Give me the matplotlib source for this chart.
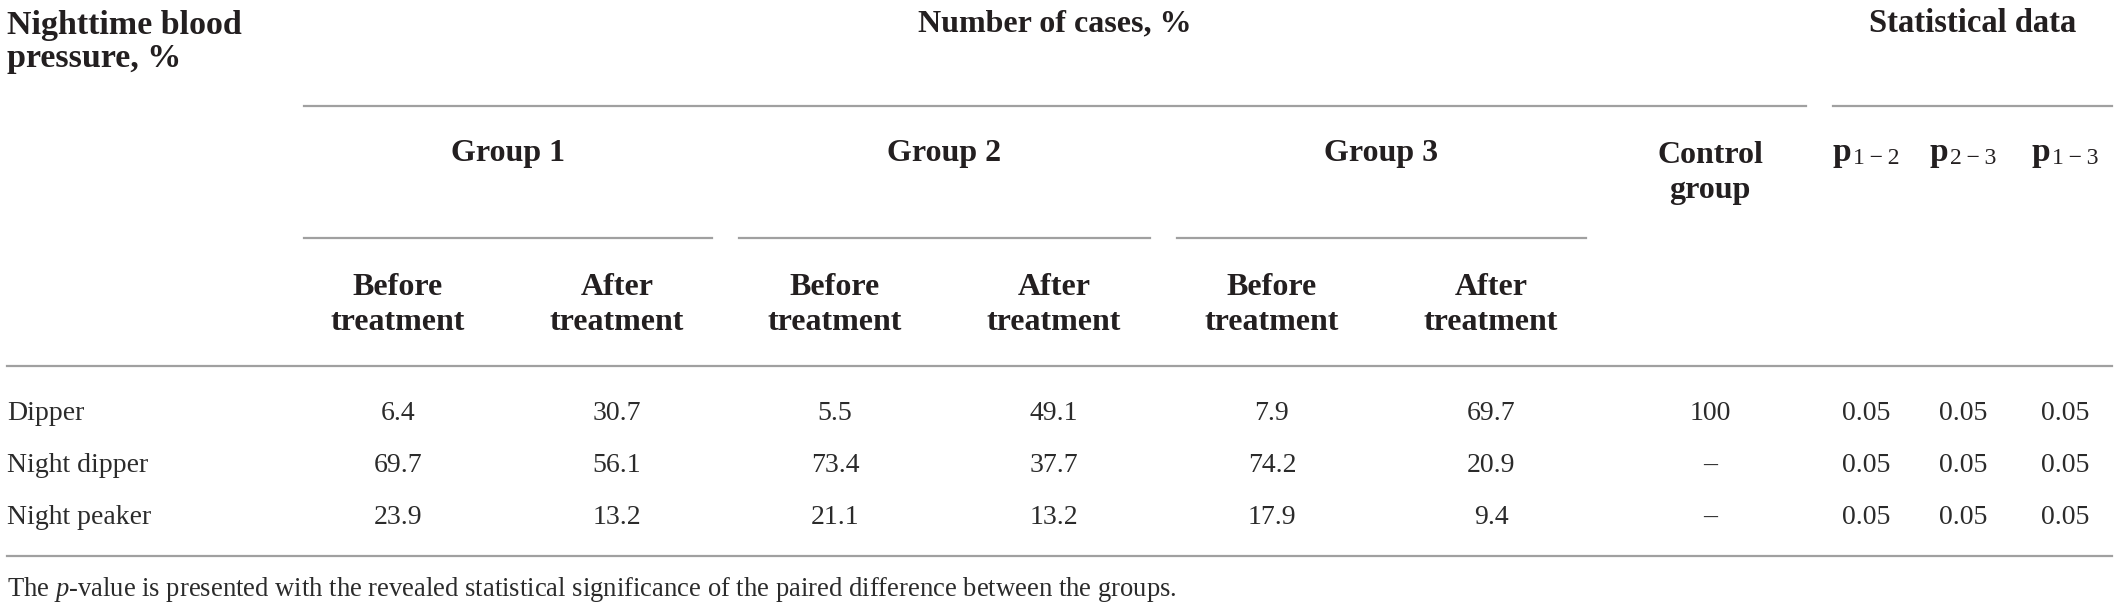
import matplotlib.pyplot as plt

# table contents
row_labels = ["Dipper", "Night dipper", "Night peaker"]
group_names = ["Group 1", "Group 2", "Group 3"]
phase_names = ["Before\ntreatment", "After\ntreatment"]
g1_before = [6.4, 69.7, 23.9]
g1_after = [30.7, 56.1, 13.2]
g2_before = [5.5, 73.4, 21.1]
g2_after = [49.1, 37.7, 13.2]
g3_before = [7.9, 74.2, 17.9]
g3_after = [69.7, 20.9, 9.4]
control = ["100", "\u2013", "\u2013"]
p_1_2 = [0.05, 0.05, 0.05]
p_2_3 = [0.05, 0.05, 0.05]
p_1_3 = [0.05, 0.05, 0.05]
p_subs = ["1\u2009\u2212\u20092", "2\u2009\u2212\u20093", "1\u2009\u2212\u20093"]
footnote = ("The $\\it{p}$-value is presented with the revealed statistical "
            "significance of the paired difference between the groups.")

W, H = 2117, 610
plt.rcParams["font.family"] = ["Liberation Serif", "DejaVu Serif"]
plt.rcParams["mathtext.fontset"] = "custom"
plt.rcParams["mathtext.rm"] = "Liberation Serif"
plt.rcParams["mathtext.it"] = "Liberation Serif:italic"

fig = plt.figure(figsize=(W / 100, H / 100), dpi=100)
ax = fig.add_axes([0, 0, 1, 1])
ax.set_xlim(0, W)
ax.set_ylim(H, 0)
ax.axis("off")

ink = "#231f20"
body_ink = "#2b2b2b"
rule = "#a0a0a0"
hsize = 23
bsize = 20

# column layout (pixel centres)
group_spans = [(304, 712), (739, 1150), (1177, 1586)]
value_cols = [398, 617, 835, 1054, 1272, 1491]
control_x = 1710
p_cols = [1866, 1963, 2065]
row_y = [413, 465, 517]

# header
ax.text(7, 42, "Nighttime blood\npressure, %", ha="left", va="center",
        fontsize=24.5, fontweight="bold", color=ink, linespacing=1.12)
ax.text((304 + 1806) / 2, 24, "Number of cases, %", ha="center", va="center",
        fontsize=hsize, fontweight="bold", color=ink)
ax.text((1833 + 2112) / 2, 24, "Statistical data", ha="center", va="center",
        fontsize=hsize + 0.5, fontweight="bold", color=ink)
ax.plot([304, 1806], [106, 106], color=rule, lw=1.6)
ax.plot([1833, 2112], [106, 106], color=rule, lw=1.6)

for (x0, x1), name in zip(group_spans, group_names):
    ax.text((x0 + x1) / 2, 153, name, ha="center", va="center",
            fontsize=hsize, fontweight="bold", color=ink)
    ax.plot([x0, x1], [238, 238], color=rule, lw=1.6)

for i, x in enumerate(value_cols):
    ax.text(x, 305, phase_names[i % 2], ha="center", va="center",
            fontsize=hsize, fontweight="bold", color=ink, linespacing=1.25)

ax.text(control_x, 173, "Control\ngroup", ha="center", va="center",
        fontsize=hsize, fontweight="bold", color=ink, linespacing=1.3)

# p labels: bold p with a regular-weight subscript
for x, sub in zip(p_cols, p_subs):
    ax.annotate("p", xy=(x, 153), xytext=(-24, 0), textcoords="offset pixels",
                ha="center", va="center", fontsize=hsize + 1, fontweight="bold",
                color=ink)
    ax.annotate(sub, xy=(x, 153), xytext=(-13, -6), textcoords="offset pixels",
                ha="left", va="center", fontsize=hsize * 0.74, color=ink,
                family=["Liberation Serif", "DejaVu Serif"])

ax.plot([7, 2112], [366, 366], color=rule, lw=1.6)

# body
columns = [g1_before, g1_after, g2_before, g2_after, g3_before, g3_after]
for j, y in enumerate(row_y):
    ax.text(7, y, row_labels[j], ha="left", va="center", fontsize=bsize,
            color=body_ink)
    for x, col in zip(value_cols, columns):
        ax.text(x, y, f"{col[j]:.1f}", ha="center", va="center",
                fontsize=bsize, color=body_ink)
    ax.text(control_x, y, control[j], ha="center", va="center",
            fontsize=bsize, color=body_ink)
    for x, col in zip(p_cols, [p_1_2, p_2_3, p_1_3]):
        ax.text(x, y, f"{col[j]:.2f}", ha="center", va="center",
                fontsize=bsize, color=body_ink)

ax.plot([7, 2112], [556, 556], color=rule, lw=1.6)
ax.text(7, 589, footnote, ha="left", va="center", fontsize=bsize * 0.96,
        color=body_ink)

fig.savefig("out.png", dpi=100)
